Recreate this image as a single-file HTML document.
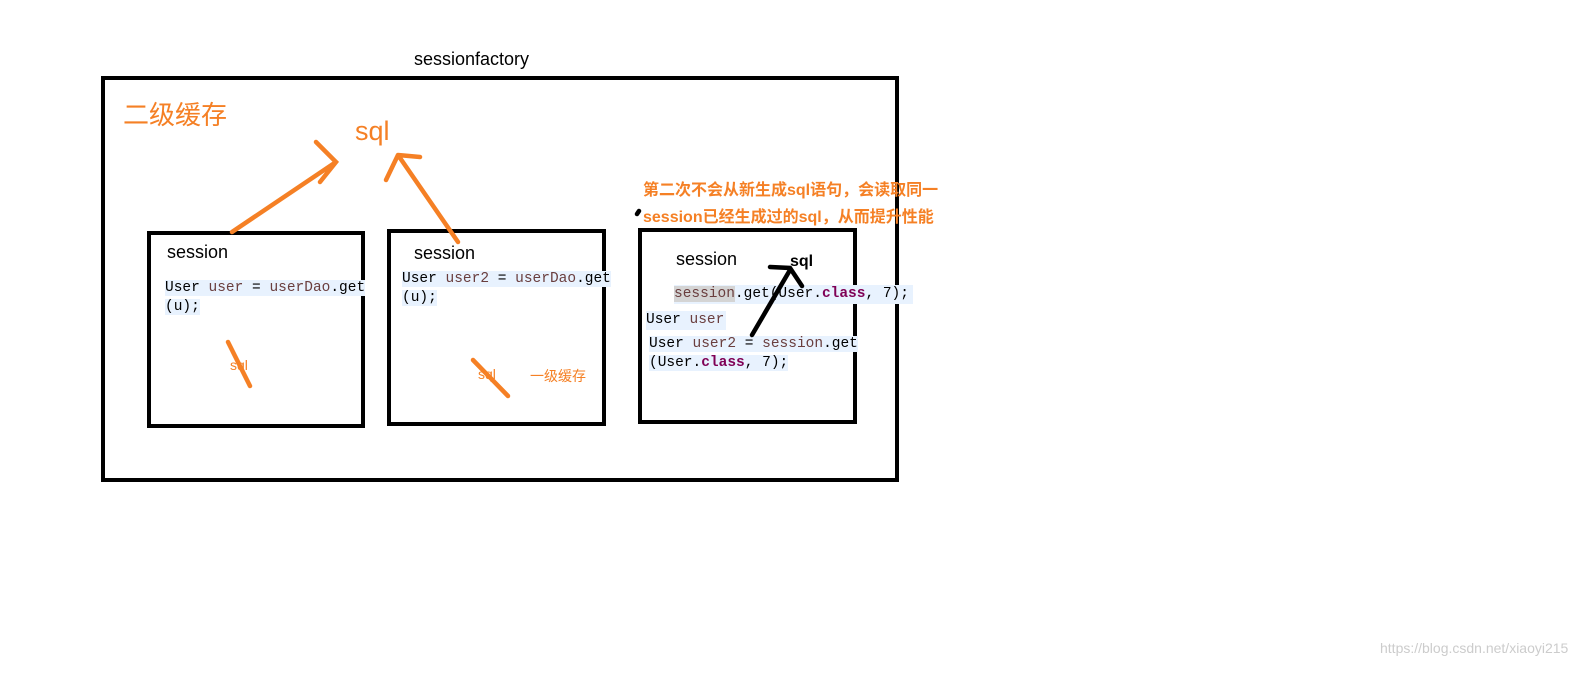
<!DOCTYPE html>
<html><head><meta charset="utf-8"><style>
body{margin:0;width:1594px;height:680px;background:#fff;position:relative;overflow:hidden;font-family:"Liberation Sans","Noto Sans CJK SC",sans-serif}
.a{position:absolute;white-space:nowrap}
.box{position:absolute;border:4px solid #000;box-sizing:border-box}
.code{position:absolute;font-family:"Liberation Mono",monospace;font-size:14.5px;line-height:19px;color:#000;white-space:pre}
.code span.h{background:#e8f2fe}
.v{color:#6a3e3e}
.k{color:#7f0055;font-weight:bold}
.or{color:#f58025}
</style></head><body>
<div class="a" style="left:414px;top:49px;font-size:18px">sessionfactory</div>
<div class="box" style="left:101px;top:76px;width:798px;height:406px"></div>
<div class="a or" style="left:123px;top:95px;font-size:26px">二级缓存</div>
<div class="a or" style="left:355px;top:116px;font-size:27px">sql</div>

<div class="box" style="left:147px;top:231px;width:218px;height:197px"></div>
<div class="a" style="left:167px;top:242px;font-size:18px">session</div>
<div class="code" style="left:165px;top:279px"><span class="h">User <span class="v">user</span> = <span class="v">userDao</span>.get</span>
<span class="h">(u);</span></div>
<div class="a or" style="left:230px;top:357px;font-size:14px">sql</div>

<div class="box" style="left:387px;top:229px;width:219px;height:197px"></div>
<div class="a" style="left:414px;top:243px;font-size:18px">session</div>
<div class="code" style="left:402px;top:270px"><span class="h">User <span class="v">user2</span> = <span class="v">userDao</span>.get</span>
<span class="h">(u);</span></div>
<div class="a or" style="left:478px;top:366px;font-size:14px">sql</div>
<div class="a or" style="left:530px;top:366px;font-size:14px">一级缓存</div>

<div class="box" style="left:638px;top:228px;width:219px;height:196px"></div>
<div class="a" style="left:676px;top:249px;font-size:18px">session</div>
<div class="a" style="left:790px;top:253px;font-size:16px;font-weight:bold">sql</div>
<div class="code" style="left:674px;top:285px;background:#e8f2fe;padding-right:4px"><span style="background:#d4d4d4" class="v">session</span>.get(User.<span class="k">class</span>, 7);</div>
<div class="code" style="left:646px;top:311px;background:#e8f2fe;padding-right:2px">User <span class="v">user</span></div>
<div class="code" style="left:649px;top:335px"><span class="h">User <span class="v">user2</span> = <span class="v">session</span>.get</span>
<span class="h">(User.<span class="k">class</span>, 7);</span></div>
<div class="a or" style="left:643px;top:176px;font-size:16px;font-weight:bold">第二次不会从新生成sql语句，会读取同一</div>
<div class="a or" style="left:643px;top:203px;font-size:16px;font-weight:bold">session已经生成过的sql，从而提升性能</div>
<div class="a" style="left:1380px;top:640px;font-size:14px;color:#ccc">https://blog.csdn.net/xiaoyi215</div>

<svg width="1594" height="680" style="position:absolute;left:0;top:0">
<g stroke="#f58025" stroke-width="4.5" stroke-linecap="round" fill="none">
<path d="M232 232 L336 162 M316 142 L336 162 L320 182"/>
<path d="M458 242 L398 155 M398 155 L420 157 M398 155 L386 180"/>
<path d="M228 342 L250 386"/>
<path d="M473 360 L508 396"/>
</g>
<g stroke="#000" stroke-width="4.5" stroke-linecap="round" fill="none">
<path d="M752 335 L790 270 M770 267 L790 268 L802 286"/>
<path d="M637 214 L639 211"/>
</g>
</svg>
</body></html>
